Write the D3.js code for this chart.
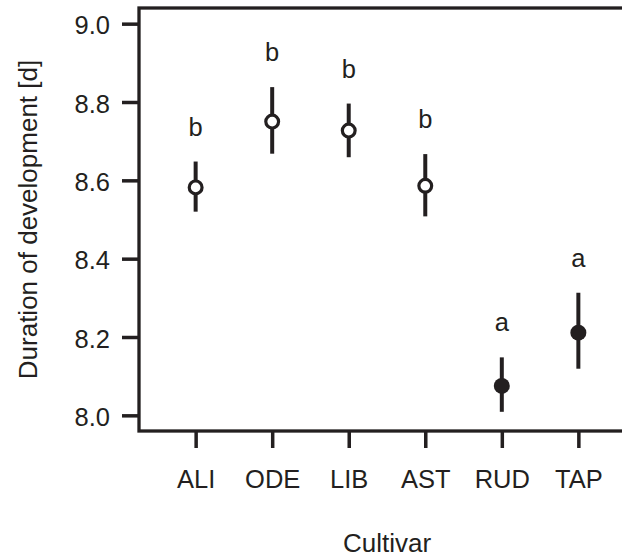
<!DOCTYPE html>
<html>
<head>
<meta charset="utf-8">
<script src="https://cdn.jsdelivr.net/npm/d3@7"></script>
<style>
  html, body { margin: 0; padding: 0; background: #fff; }
  svg { display: block; }
  text { font-family: "Liberation Sans", Arial, Helvetica, sans-serif; fill: #231f20; }
</style>
</head>
<body>
<div id="chart"></div>
<script>
const categories = ["ALI", "ODE", "LIB", "AST", "RUD", "TAP"];
const means = [8.582, 8.750, 8.727, 8.586, 8.075, 8.211];
const upper = [8.648, 8.838, 8.796, 8.667, 8.148, 8.313];
const lower = [8.520, 8.668, 8.659, 8.508, 8.009, 8.119];
const letters = ["b", "b", "b", "b", "a", "a"];
const filled = [false, false, false, false, true, true];
const yTicks = [8.0, 8.2, 8.4, 8.6, 8.8, 9.0];
const xTitle = "Cultivar";
const yTitle = "Duration of development [d]";

(function () {
const W = 622, H = 558;
const ink = "#231f20";
const svg = d3.select("#chart").append("svg").attr("width", W).attr("height", H);

const pL = 139, pR = 635, pT = 8, pB = 431;
const x = d3.scaleLinear().domain([0.26, 6.74]).range([pL, pR]);
const y = d3.scaleLinear().domain([7.96, 9.04]).range([pB, pT]);

const data = categories.map((c, i) => ({
  cat: c, idx: i + 1, mean: means[i], hi: upper[i], lo: lower[i],
  letter: letters[i], filled: filled[i]
}));

// box
svg.append("rect")
  .attr("x", pL).attr("y", pT)
  .attr("width", pR - pL).attr("height", pB - pT)
  .attr("fill", "none").attr("stroke", ink).attr("stroke-width", 3.3);

// y axis
const yAxis = svg.append("g").attr("transform", `translate(${pL},0)`)
  .call(d3.axisLeft(y).tickValues(yTicks).tickFormat(d3.format(".1f"))
    .tickSize(17).tickPadding(12));
yAxis.select(".domain").remove();
yAxis.selectAll(".tick line").attr("stroke", ink).attr("stroke-width", 3.5);
yAxis.selectAll(".tick text").attr("font-size", 25.5).attr("dy", "0.4em")
  .style("font-family", "'Liberation Sans', Arial, sans-serif").attr("fill", ink);

// x axis
const xAxis = svg.append("g").attr("transform", `translate(0,${pB})`)
  .call(d3.axisBottom(x).tickValues(data.map(d => d.idx))
    .tickFormat(i => categories[i - 1]).tickSize(17).tickPadding(22));
xAxis.select(".domain").remove();
xAxis.selectAll(".tick line").attr("stroke", ink).attr("stroke-width", 3.5);
xAxis.selectAll(".tick text").attr("font-size", 25.5)
  .style("font-family", "'Liberation Sans', Arial, sans-serif").attr("fill", ink);

// error bars
svg.selectAll("line.err").data(data).enter().append("line")
  .attr("class", "err")
  .attr("x1", d => x(d.idx)).attr("x2", d => x(d.idx))
  .attr("y1", d => y(d.lo)).attr("y2", d => y(d.hi))
  .attr("stroke", ink).attr("stroke-width", 4);

// points
svg.selectAll("circle.pt").data(data).enter().append("circle")
  .attr("class", "pt")
  .attr("cx", d => x(d.idx)).attr("cy", d => y(d.mean))
  .attr("r", d => d.filled ? 8 : 6.4)
  .attr("fill", d => d.filled ? ink : "#fff")
  .attr("stroke", ink)
  .attr("stroke-width", d => d.filled ? 0 : 3.2);

// significance letters
svg.selectAll("text.sig").data(data).enter().append("text")
  .attr("class", "sig")
  .attr("x", d => x(d.idx)).attr("y", d => y(d.hi) - 26)
  .attr("text-anchor", "middle").attr("font-size", 25.5)
  .text(d => d.letter);

// axis titles
svg.append("text")
  .attr("x", (pL + pR) / 2).attr("y", 552)
  .attr("text-anchor", "middle").attr("font-size", 26)
  .text(xTitle);

svg.append("text")
  .attr("transform", `translate(37,${(pT + pB) / 2}) rotate(-90)`)
  .attr("text-anchor", "middle").attr("font-size", 26)
  .text(yTitle);
})();
</script>
</body>
</html>
